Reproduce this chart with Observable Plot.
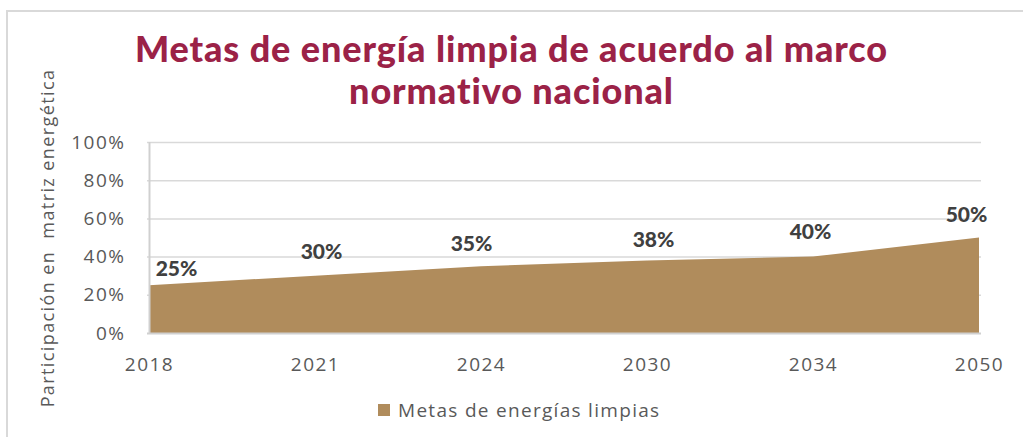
<!DOCTYPE html>
<html>
<head>
<meta charset="utf-8">
<script src="https://cdn.jsdelivr.net/npm/d3@7"></script>
<script src="https://cdn.jsdelivr.net/npm/@observablehq/plot@0.6"></script>
<style>
  html, body { margin: 0; padding: 0; background: #fff; }
  #wrap { position: relative; width: 1023px; height: 437px; overflow: hidden; font-family: "Open Sans", sans-serif; }
  #frame { position: absolute; left: 6px; top: 10px; width: 1030px; height: 440px; border: 2px solid #d9d9d9; box-sizing: border-box; }
  #title { position: absolute; left: 0; width: 1023px; top: 27px; text-align: center; color: #9b2247; font-family: Lato, sans-serif; font-weight: 900; font-size: 36px; line-height: 42px; letter-spacing: 0.9px; }
  #chart { position: absolute; left: 0; top: 0; }
  #legend { position: absolute; top: 397px; left: 378px; font-size: 19px; color: #595959; display: flex; align-items: center; gap: 8px; letter-spacing: 1.3px; }
  #legend .sw { width: 12px; height: 12px; background: #b08c5c; }
</style>
</head>
<body>
<div id="wrap">
  <div id="frame"></div>
  <div id="title">Metas de energía limpia de acuerdo al marco<br>normativo nacional</div>
  <div id="chart"></div>
  <div id="legend"><span class="sw"></span><span>Metas de energías limpias</span></div>
</div>
<script>
const years = ["2018", "2021", "2024", "2030", "2034", "2050"];
const values = [0.25, 0.30, 0.35, 0.38, 0.40, 0.50];
const labels = ["25%", "30%", "35%", "38%", "40%", "50%"];
const yTicks = [0, 0.2, 0.4, 0.6, 0.8, 1.0];

const data = years.map((y, i) => ({year: y, value: values[i], label: labels[i]}));
const fillColor = "#b08c5c";

const plot = Plot.plot({
  width: 1023,
  height: 437,
  marginTop: 142,
  marginBottom: 104,
  marginLeft: 147,
  marginRight: 42,
  style: {fontFamily: "'Open Sans', sans-serif", fontSize: "19px", color: "#595959", background: "transparent", overflow: "visible"},
  x: {type: "point", domain: years, padding: 0},
  y: {domain: [0, 1]},
  marks: [
    Plot.ruleY(yTicks.slice(1), {stroke: "#d9d9d9", strokeWidth: 1.5}),
    Plot.areaY(data, {x: "year", y: "value", fill: fillColor}),
    Plot.ruleY([0], {stroke: "#d0d0d0", strokeWidth: 2}),
    Plot.ruleX([years[0]], {y1: 0, y2: 1, stroke: "#d0d0d0", strokeWidth: 2}),
    Plot.axisY({ticks: yTicks, tickFormat: d3.format(".0%"), tickSize: 0, tickPadding: 22, fontSize: 19, fill: "#595959",
      label: "Participación en  matriz energética", labelAnchor: "center", labelArrow: "none", labelOffset: 106}),
    Plot.axisX({tickSize: 0, tickPadding: 24, fontSize: 19, fill: "#595959", label: null}),
    Plot.text(data, {x: "year", y: "value", text: "label",
      fontSize: 21, fontWeight: 900, fill: "#404040",
      fontFamily: "Lato, sans-serif"})
  ]
});
document.getElementById("chart").appendChild(plot);

// adjust label offsets to match reference placement
const offs = [[27, -16], [6, -24], [-10, -22], [6, -21], [-3, -25], [-13, -23]];
d3.select(plot).selectAll("g[aria-label='text'] text").each(function(d, i) {
  const o = offs[i];
  const t = d3.select(this);
  const tr = t.attr("transform");
  t.attr("transform", (tr || "") + ` translate(${o[0]},${o[1]})`);
});
d3.select(plot).selectAll("g[aria-label='y-axis tick label'] text, g[aria-label='x-axis tick label'] text")
  .attr("letter-spacing", "1.5px");
d3.select(plot).selectAll("g[aria-label='y-axis label'] text").attr("font-size", 18).attr("letter-spacing", "1.4px");
</script>
</body>
</html>
